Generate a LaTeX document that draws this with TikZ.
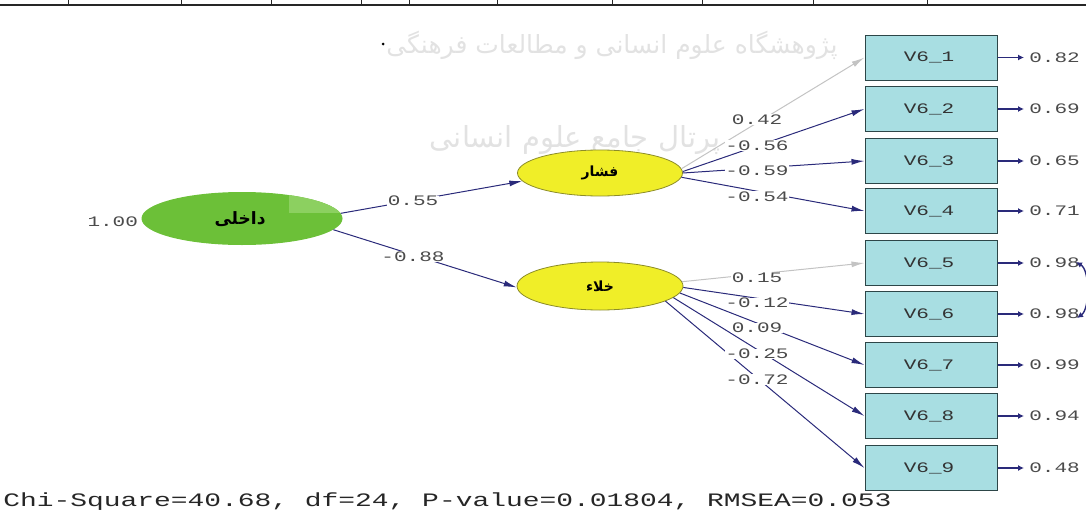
\documentclass[tikz,border=0pt]{standalone}
\usepackage{fontspec}
\setmonofont{Liberation Mono}
\newfontfamily\arabicfont[Script=Arabic]{DejaVu Sans}
\TeXXeTstate=1
\usetikzlibrary{arrows.meta,shapes.geometric}
\definecolor{boxfill}{RGB}{168,222,226}
\definecolor{boxline}{RGB}{45,70,72}
\definecolor{grn}{RGB}{108,192,56}
\definecolor{grnlight}{RGB}{140,208,96}
\definecolor{yel}{RGB}{240,238,40}
\definecolor{yelline}{RGB}{140,140,40}
\definecolor{navy}{RGB}{42,42,122}
\definecolor{lgray}{RGB}{195,195,195}
\definecolor{txtgray}{RGB}{75,75,75}
\definecolor{wm}{RGB}{226,226,226}
\begin{document}
\begin{tikzpicture}[x=1pt,y=-1pt,
  obs/.style={rectangle, draw=boxline, fill=boxfill, line width=1pt,
    minimum width=132pt, minimum height=45pt, inner sep=0pt},
  obstext/.style={font=\ttfamily\fontsize{14.5}{16}\selectfont, text=black!80, xscale=1.45, inner sep=0pt},
  lat/.style={ellipse, inner sep=0pt, font=\arabicfont\bfseries\fontsize{14}{16}\selectfont},
  pth/.style={draw=navy, line width=1pt, -{Latex[length=13pt,width=6pt]}},
  weak/.style={draw=lgray, line width=1pt, -{Latex[length=13pt,width=6pt]}},
  lab/.style={fill=white, inner sep=0.5pt, text=txtgray,
    font=\ttfamily\fontsize{14.5}{16}\selectfont, xscale=1.45},
  errval/.style={inner sep=0pt, text=txtgray, anchor=west,
    font=\ttfamily\fontsize{14.5}{16}\selectfont, xscale=1.45},
  errarrow/.style={draw=navy, line width=1.6pt, -{Latex[length=6pt,width=6pt]}},
]
\useasboundingbox (0,0) rectangle (1086,514);

% watermark
\node[text=wm, font=\arabicfont\fontsize{25}{30}\selectfont] (wm1) at (612,45)
  {\beginR پژوهشگاه علوم انسانی و مطالعات فرهنگی\endR};
\node[text=wm, font=\arabicfont\fontsize{29}{34}\selectfont] (wm2) at (575,140)
  {\beginR پرتال جامع علوم انسانی\endR};

% top border
\draw[line width=2.5pt, black!85] (0,5) -- (1086,5);
\foreach \xx in {68,181,271,361,409,497,612,702,813,927}
  \draw[line width=1pt, black!85] (\xx,0) -- (\xx,5);
\fill[black] (383,44) circle (1.5pt);

% latent variables
\node[lat, fill=grn, minimum width=201pt, minimum height=53pt] (D) at (242,218.5) {};
\begin{scope}
  \clip (242,218.5) ellipse [x radius=100.5, y radius=26.5];
  \fill[grnlight] (289,190) rectangle (345,213);
\end{scope}
\node[lat, font=\arabicfont\bfseries\fontsize{17}{19}\selectfont] (Dt) at (240,219) {\beginR داخلی\endR};
\node[lat, fill=yel, draw=yelline, line width=0.8pt, minimum width=165pt, minimum height=46pt] (F) at (600,173) {\beginR فشار\endR};
\node[lat, fill=yel, draw=yelline, line width=0.8pt, minimum width=166pt, minimum height=48pt] (K) at (600,286) {\beginR خلاء\endR};

\node[lab, fill=none, anchor=east] (var) at (139,222) {1.00};

% observed variables
\foreach \i/\yy in {1/57.5,2/109,3/161,4/211,5/263,6/314,7/365,8/416,9/468}{
  \node[obs] (V\i) at (931,\yy) {};
  \node[obstext] (T\i) at (929,\yy) {V6\_\i};
  \coordinate (E\i) at (1024,\yy);
  \draw[errarrow] (V\i.east) -- (E\i);
}
\node[errval] (e1) at (1029,57.5) {0.82};
\node[errval] (e2) at (1029,109) {0.69};
\node[errval] (e3) at (1029,161) {0.65};
\node[errval] (e4) at (1029,211) {0.71};
\node[errval] (e5) at (1029,263) {0.98};
\node[errval] (e6) at (1029,314) {0.98};
\node[errval] (e7) at (1029,365) {0.99};
\node[errval] (e8) at (1029,416) {0.94};
\node[errval] (e9) at (1029,468) {0.48};

% error covariance
\coordinate (c5) at (1076,262);
\coordinate (c6) at (1077,318);
\draw[navy, line width=1.4pt, {Latex[length=6pt,width=6pt]}-{Latex[length=6pt,width=6pt]}]
  (c5) .. controls (1090,270) and (1090,309) .. (c6);

% structural paths
\draw[pth] (D.3) -- (F.186);
\draw[pth] (D.-7) -- (K.181);
\node[lab] (l1) at (413,201) {0.55};
\node[lab] (l2) at (413,256.5) {-0.88};

% loadings
\draw[weak] (F.3) -- (V1.west);
\draw[pth] (F.1) -- (V2.west);
\draw[pth] (F.0) -- (V3.west);
\draw[pth] (F.-3) -- (V4.west);
\draw[weak] (K.3) -- (V5.west);
\draw[pth] (K.-1) -- (V6.west);
\draw[pth] (K.-5) -- (V7.west);
\draw[pth] (K.-9) -- (V8.west);
\draw[pth] (K.-13) -- (V9.west);

\node[lab] (f1) at (757,119.5) {0.42};
\node[lab] (f2) at (757,145.5) {-0.56};
\node[lab] (f3) at (757,170.5) {-0.59};
\node[lab] (f4) at (757,196.5) {-0.54};
\node[lab] (k5) at (757,277.5) {0.15};
\node[lab] (k6) at (757,303) {-0.12};
\node[lab] (k7) at (757,328) {0.09};
\node[lab] (k8) at (757,354) {-0.25};
\node[lab] (k9) at (757,379.5) {-0.72};

% fit statistics
\node[anchor=west, inner sep=0pt, font=\ttfamily\fontsize{19}{22}\selectfont, xscale=1.47, text=black!85] (fit) at (3,502)
  {Chi-Square=40.68, df=24, P-value=0.01804, RMSEA=0.053};
\end{tikzpicture}
\end{document}
